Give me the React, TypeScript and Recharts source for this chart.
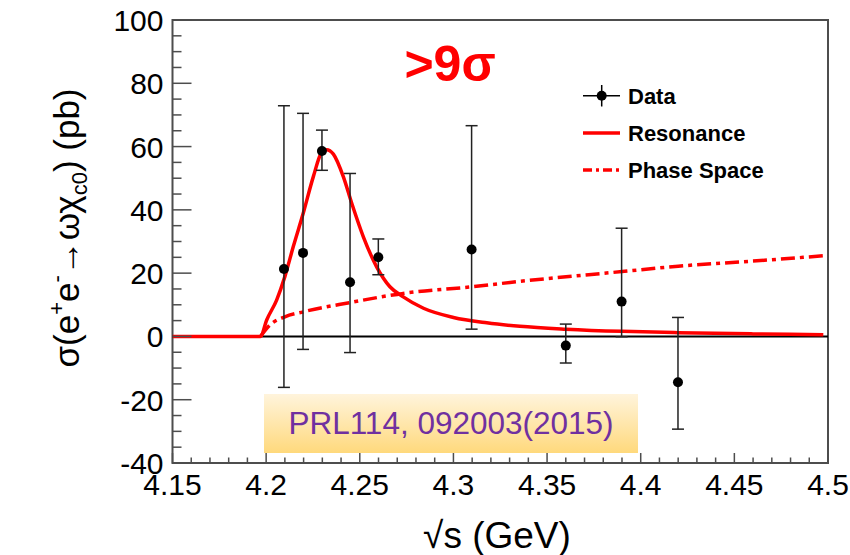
import React from "react";
import { ComposedChart, Line, Scatter, ErrorBar, XAxis, YAxis, ReferenceLine, ReferenceArea } from "recharts";

// measured points
const dataE = [4.2095, 4.2197, 4.2298, 4.2448, 4.2599, 4.3097, 4.36, 4.3898, 4.4199];
const dataSigma = [21.3, 26.4, 58.6, 17.1, 25.0, 27.5, -2.9, 11.0, -14.5];
const dataHigh = [72.9, 70.5, 65.2, 51.5, 30.8, 66.6, 3.9, 34.2, 6.0];
const dataLow = [-16.1, -4.1, 52.5, -5.1, 19.5, 2.3, -8.4, -0.1, -29.3];

// fit curves
const resE = [4.15, 4.197, 4.2003, 4.2056, 4.21, 4.2145, 4.2198, 4.2252, 4.2297, 4.2323, 4.2359, 4.2412, 4.2457, 4.2519, 4.259, 4.2661, 4.2732, 4.284, 4.3, 4.3178, 4.3355, 4.36, 4.39, 4.42, 4.46, 4.4975];
const resSigma = [0, 0, 5.2, 11.5, 18.9, 28.4, 38.9, 50.5, 58.2, 59.0, 57.6, 50.5, 42.1, 31.5, 22.0, 15.7, 12.5, 8.9, 6.0, 4.3, 3.2, 2.3, 1.6, 1.2, 0.8, 0.55];
const psE = [4.197, 4.202, 4.21, 4.22, 4.2448, 4.2732, 4.31, 4.3355, 4.39, 4.42, 4.46, 4.498];
const psSigma = [0, 3.6, 6.2, 7.8, 10.7, 13.6, 15.7, 17.4, 20.5, 22.2, 23.8, 25.5];

const xMajor = [4.15, 4.2, 4.25, 4.3, 4.35, 4.4, 4.45, 4.5];
const xLabels = ["4.15", "4.2", "4.25", "4.3", "4.35", "4.4", "4.45", "4.5"];
const yMajor = [-40, -20, 0, 20, 40, 60, 80, 100];
const yLabels = ["-40", "-20", "0", "20", "40", "60", "80", "100"];

const xTicks = Array.from({ length: 36 }, (_, i) => +(4.15 + i * 0.01).toFixed(2));
const yTicks = Array.from({ length: 29 }, (_, i) => -40 + i * 5);

const points = dataE.map((x, i) => ({ x, y: dataSigma[i], err: [dataSigma[i] - dataLow[i], dataHigh[i] - dataSigma[i]] }));
const resonance = resE.map((x, i) => ({ x, y: resSigma[i] }));
const phaseSpace = psE.map((x, i) => ({ x, y: psSigma[i] }));

const FONT = "'Liberation Sans', Arial, Helvetica, sans-serif";
const AXIS = "#4d4d4d";

function XTick(p: any) {
  const v = p.payload.value;
  const idx = xMajor.findIndex(m => Math.abs(m - v) < 1e-6);
  return (
    <g>
      <line x1={p.x} x2={p.x} y1={p.y} y2={p.y - (idx >= 0 ? 10 : 5.5)} stroke={AXIS} strokeWidth={1.5} />
      {idx >= 0 && (
        <text x={p.x} y={p.y + 32} textAnchor="middle" fontSize={30} fontFamily={FONT} fill="#000">{xLabels[idx]}</text>
      )}
    </g>
  );
}

function YTick(p: any) {
  const v = p.payload.value;
  const idx = yMajor.indexOf(v);
  return (
    <g>
      <line x1={p.x} x2={p.x + (idx >= 0 ? 19 : 9)} y1={p.y} y2={p.y} stroke={AXIS} strokeWidth={1.5} />
      {idx >= 0 && (
        <text x={p.x - 9} y={p.y + 11} textAnchor="end" fontSize={30} fontFamily={FONT} fill="#000">{yLabels[idx]}</text>
      )}
    </g>
  );
}

export default function App() {
  return (
    <div style={{ position: "relative", width: 850, height: 555, background: "#fff", fontFamily: FONT }}>
      <style>{`body{margin:0}`}</style>
      <ComposedChart width={850} height={555} margin={{ top: 20, right: 22, left: 0, bottom: 0 }}>
        <XAxis dataKey="x" type="number" domain={[4.15, 4.5]} allowDataOverflow ticks={xTicks} interval={0}
          tick={(p: any) => <XTick {...p} />} tickLine={false} axisLine={false} tickSize={0} tickMargin={0} height={92} />
        <YAxis dataKey="y" type="number" domain={[-40, 100]} allowDataOverflow ticks={yTicks} interval={0}
          tick={(p: any) => <YTick {...p} />} tickLine={false} axisLine={false} tickSize={0} tickMargin={0} width={172.5} />
        <ReferenceArea x1={4.15} x2={4.5} y1={-40} y2={100} fill="none" stroke={AXIS} strokeWidth={2} fillOpacity={0} />
        <ReferenceLine y={0} stroke="#000" strokeWidth={2} />
        <Line data={phaseSpace} dataKey="y" type="monotone" stroke="#ff0000" strokeWidth={3.5}
          strokeDasharray="14 5 4 5" dot={false} isAnimationActive={false} />
        <Line data={resonance} dataKey="y" type="monotone" stroke="#ff0000" strokeWidth={3.5}
          dot={false} isAnimationActive={false} />
        <Scatter data={points} dataKey="y" isAnimationActive={false}
          shape={(p: any) => <circle cx={p.cx} cy={p.cy} r={5} fill="#000" />}>
          <ErrorBar dataKey="err" direction="y" width={6} stroke="#222" strokeWidth={1.5} />
        </Scatter>
      </ComposedChart>

      <svg width={850} height={555} style={{ position: "absolute", left: 0, top: 0, pointerEvents: "none" }}>
        <defs>
          <linearGradient id="prlbg" x1="0" y1="0" x2="0" y2="1">
            <stop offset="0%" stopColor="#fff4dc" />
            <stop offset="100%" stopColor="#ffd97c" />
          </linearGradient>
        </defs>

        <text x={450} y={81} textAnchor="middle" fontSize={50} fontWeight="bold" fontFamily={FONT} fill="#ff0000">&gt;9σ</text>

        {/* legend */}
        <line x1={583} x2={620} y1={95.7} y2={95.7} stroke="#000" strokeWidth={1.5} />
        <line x1={601.7} x2={601.7} y1={85} y2={106.5} stroke="#000" strokeWidth={1.5} />
        <circle cx={601.7} cy={95.7} r={5} fill="#000" />
        <text x={628} y={104} fontSize={22} fontWeight="bold" fontFamily={FONT}>Data</text>
        <line x1={583} x2={620} y1={133} y2={133} stroke="#ff0000" strokeWidth={3.5} />
        <text x={628} y={141} fontSize={22} fontWeight="bold" fontFamily={FONT}>Resonance</text>
        <line x1={583} x2={620} y1={170} y2={170} stroke="#ff0000" strokeWidth={3.5} strokeDasharray="9 4 3 4" />
        <text x={628} y={178} fontSize={22} fontWeight="bold" fontFamily={FONT}>Phase Space</text>

        {/* reference box */}
        <rect x={264} y={394} width={374} height={59} fill="url(#prlbg)" />
        <text x={451} y={434} textAnchor="middle" fontSize={31.5} fontFamily={FONT} fill="#7030a0">PRL114, 092003(2015)</text>

        {/* axis titles */}
        <text x={497} y={548} textAnchor="middle" fontSize={37} fontFamily={FONT}>√s (GeV)</text>
        <text transform="translate(79,228) rotate(-90)" textAnchor="middle" fontSize={35} fontFamily={FONT}>
          <tspan>σ(e</tspan>
          <tspan fontSize={22} dy={-15}>+</tspan>
          <tspan dy={15}>e</tspan>
          <tspan fontSize={22} dy={-15}>-</tspan>
          <tspan dy={15}>→ωχ</tspan>
          <tspan fontSize={22} dy={8}>c0</tspan>
          <tspan dy={-8}>) (pb)</tspan>
        </text>
      </svg>
    </div>
  );
}
